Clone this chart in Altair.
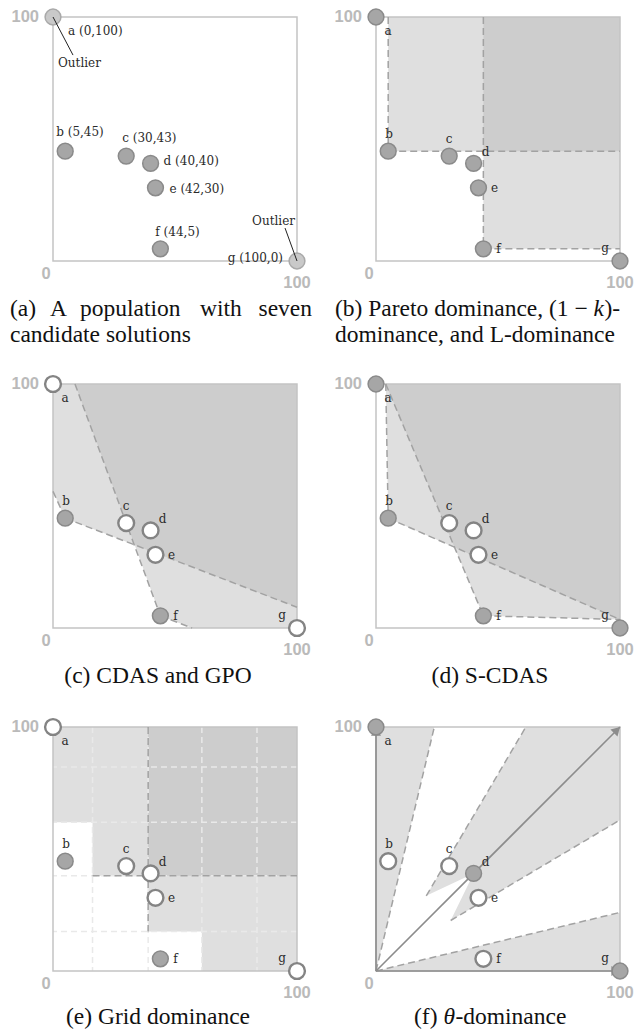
import altair as alt
import pandas as pd

# ---- candidate solutions: objective values f1, f2 ----
names = ["a", "b", "c", "d", "e", "f", "g"]
f1 = [0, 5, 30, 40, 42, 44, 100]
f2 = [100, 45, 43, 40, 30, 5, 0]
coord_labels = ["a (0,100)", "b (5,45)", "c (30,43)", "d (40,40)",
                "e (42,30)", "f (44,5)", "g (100,0)"]

# status of each solution in every panel: o = outlier, g = kept, w = dominated
status_a = ["o", "g", "g", "g", "g", "g", "o"]
status_b = ["g", "g", "g", "g", "g", "g", "g"]
status_c = ["w", "g", "w", "w", "w", "g", "w"]
status_d = ["g", "g", "w", "w", "w", "g", "g"]
status_e = ["w", "g", "w", "w", "w", "g", "w"]
status_f = ["g", "w", "w", "g", "w", "w", "g"]

# outlier call-outs in panel (a): pointer end points
outlier_names = ["a", "g"]
pointer_x2 = [8.2, 95.1]
pointer_y2 = [84.4, 13.5]

# (b) Pareto / (1-k) / L-dominance regions
b_light_x, b_light_x2 = [5, 44], [100, 100]
b_light_y, b_light_y2 = [45, 5], [100, 100]
b_dark_x, b_dark_x2, b_dark_y, b_dark_y2 = [44], [100], [45], [100]
b_edge_x, b_edge_y = [5, 5, 44, 44], [100, 45, 100, 5]
b_edge_x2, b_edge_y2 = [5, 100, 44, 100], [45, 45, 5, 5]

# (c) CDAS and GPO cones
c_light_x = [0, 100, 100, 57, 44, 33.5, 5, 0]
c_light_y = [100, 100, 0, 0, 5, 34, 45, 56]
c_dark_x = [9, 100, 100, 33.5]
c_dark_y = [100, 100, 8.5, 34]
c_edge_x, c_edge_y = [0, 5, 9, 44], [56, 45, 100, 5]
c_edge_x2, c_edge_y2 = [5, 100, 44, 57], [45, 8.5, 5, 0]

# (d) S-CDAS
d_light_x = [4, 100, 100, 44, 32.2, 5]
d_light_y = [100, 100, 3.5, 5, 33, 45]
d_dark_x = [4, 100, 100, 32.2]
d_dark_y = [100, 100, 3.5, 33]
d_edge_x, d_edge_y = [4, 4, 5, 44], [100, 100, 45, 5]
d_edge_x2, d_edge_y2 = [5, 44, 100, 100], [45, 5, 3.5, 3.5]

# (e) grid dominance
e_grid = [16.2, 39, 61, 83.6]
e_light_x, e_light_x2 = [0, 16.2, 39, 61], [100, 100, 100, 100]
e_light_y, e_light_y2 = [61, 39, 16.2, 0], [100, 100, 100, 100]
e_dark_x, e_dark_x2, e_dark_y, e_dark_y2 = [39], [100], [39], [100]
e_edge_x, e_edge_y = [39, 16.2], [100, 39]
e_edge_x2, e_edge_y2 = [39, 100], [16.2, 39]

# (f) theta-dominance wedges
f_left_x, f_left_y = [0, 0, 23.9], [0, 100, 100]
f_bottom_x, f_bottom_y = [0, 100, 100], [0, 0, 24]
f_mid_x = [20.6, 61.4, 100, 100, 30.6, 40]
f_mid_y = [30.8, 100, 100, 61.9, 20.7, 40]
f_edge_x, f_edge_y = [0, 0, 20.6, 30.6], [0, 0, 30.8, 20.7]
f_edge_x2, f_edge_y2 = [23.9, 100, 61.4, 100], [100, 24, 100, 61.9]
f_axis_x, f_axis_y = [0, 0, 0], [0, 0, 0]
f_axis_x2, f_axis_y2 = [0, 100, 100], [100, 0, 100]

# sub-figure captions: (text, x offset, line, align, italic)
captions = {
    "a": [("(a)", -43, 0, "left", False), ("A", -3, 0, "left", False),
          ("population", 27, 0, "left", False), ("with", 147, 0, "left", False),
          ("seven", 259, 0, "right", False),
          ("candidate solutions", -43, 1, "left", False)],
    "b": [("(b) Pareto dominance, (1 \u2212 ", -41, 0, "left", False),
          ("k", 217.6, 0, "left", True), (")-", 228.5, 0, "left", False),
          ("dominance, and L-dominance", -41, 1, "left", False)],
    "c": [("(c) CDAS and GPO", 105, 0, "center", False)],
    "d": [("(d) S-CDAS", 114, 0, "center", False)],
    "e": [("(e) Grid dominance", 105, 0, "center", False)],
    "f": [("(f) ", 38, 0, "left", False), ("\u03b8", 67.4, 0, "left", True),
          ("-dominance", 79.4, 0, "left", False)],
}

# ---- styling ----
W = H = 244
LIGHT = "#dfdfdf"
DARK = "#cdcdcd"
FRAME = "#c4c4c4"
DASH = "#a2a2a2"
AXIS_GRAY = "#8c8c8c"
NUM = "#bababa"
INK = "#2a2a2a"
LABEL_FONT = "DejaVu Serif"
CAPTION_FONT = "Liberation Serif"
NUM_FONT = "Liberation Sans"
LOOK = {
    "o": ("#c9c9c9", "#a9a9a9", 1.5),
    "g": ("#a6a6a6", "#8a8a8a", 1.5),
    "w": ("#ffffff", "#848484", 2.4),
}
# label offsets (dx, dy, align) in pixels
COORD_OFF = [(15, 14, "left"), (-9, -19, "left"), (-4, -18, "left"), (13, -2, "left"),
             (14, 1, "left"), (-5, -17, "left"), (-14, -3, "right")]
LETTER_OFF = [(12, 14), (1, -17), (0, -17), (12, -11), (16, 0), (15, 0), (-15, -13)]

SCALE = alt.Scale(domain=[0, 100], nice=False, zero=False)
ONE = pd.DataFrame({"k": [0]})


def xq(field="x"):
    return alt.X(f"{field}:Q", scale=SCALE, axis=None)


def yq(field="y"):
    return alt.Y(f"{field}:Q", scale=SCALE, axis=None)


def polygons(polys, color):
    rows = []
    for k, (xs, ys) in enumerate(polys):
        for i, (x, y) in enumerate(zip(xs, ys)):
            rows.append({"poly": k, "i": i, "x": x, "y": y})
    return alt.Chart(pd.DataFrame(rows)).mark_line(
        fill=color, strokeWidth=0, interpolate="linear"
    ).encode(x=xq(), y=yq(), order="i:Q", detail="poly:N")


def rects(x, x2, y, y2, color):
    df = pd.DataFrame({"x": x, "x2": x2, "y": y, "y2": y2})
    return alt.Chart(df).mark_rect(color=color, strokeWidth=0).encode(
        x=xq(), x2="x2:Q", y=yq(), y2="y2:Q")


def segments(x, y, x2, y2, color=DASH, width=1.5, dash=(7, 4)):
    df = pd.DataFrame({"x": x, "y": y, "x2": x2, "y2": y2})
    kw = {"strokeDash": list(dash)} if dash else {}
    return alt.Chart(df).mark_rule(color=color, strokeWidth=width, **kw).encode(
        x=xq(), y=yq(), x2="x2:Q", y2="y2:Q")


def frame():
    df = pd.DataFrame({"x": [0], "x2": [100], "y": [0], "y2": [100]})
    return alt.Chart(df).mark_rect(filled=False, color=FRAME, strokeWidth=1.5).encode(
        x=xq(), x2="x2:Q", y=yq(), y2="y2:Q")


def extent(top, bottom):
    # invisible vertical rule fixing the vertical extent of a panel for layout
    return alt.Chart(ONE).mark_rule(strokeOpacity=0, strokeWidth=0).encode(
        x=alt.value(W / 2), y=alt.value(top), y2=alt.value(bottom))


def points(status):
    df = pd.DataFrame({
        "x": f1, "y": f2,
        "fill": [LOOK[s][0] for s in status],
        "stroke": [LOOK[s][1] for s in status],
        "sw": [LOOK[s][2] for s in status],
    })
    return alt.Chart(df).mark_point(shape="circle", filled=True, size=250, opacity=1).encode(
        x=xq(), y=yq(),
        fill=alt.Fill("fill:N", scale=None),
        stroke=alt.Stroke("stroke:N", scale=None),
        strokeWidth=alt.StrokeWidth("sw:Q", scale=None),
    )


def text_at(x, y, text, dx, dy, align="center", size=12):
    df = pd.DataFrame({"x": [x], "y": [y], "t": [text]})
    return alt.Chart(df).mark_text(
        dx=dx, dy=dy, align=align, baseline="middle",
        font=LABEL_FONT, fontSize=size, color=INK
    ).encode(x=xq(), y=yq(), text="t:N")


def letter_labels():
    return [text_at(x, y, n, dx, dy) for n, x, y, (dx, dy) in zip(names, f1, f2, LETTER_OFF)]


def corner_numbers():
    spots = [("100", -14, 0, "right"), ("0", -7, H + 12.5, "center"),
             ("100", W, H + 21.5, "center")]
    return [
        alt.Chart(ONE).mark_text(
            text=t, align=al, baseline="middle", font=NUM_FONT,
            fontWeight="bold", fontSize=16.5, color=NUM
        ).encode(x=alt.value(px), y=alt.value(py))
        for t, px, py, al in spots
    ]


def caption(key, gap=55):
    layers = []
    for text, px, line, align, italic in captions[key]:
        kw = {"fontStyle": "italic"} if italic else {}
        layers.append(alt.Chart(ONE).mark_text(
            text=text, align=align, baseline="alphabetic",
            font=CAPTION_FONT, fontSize=23.5, color="#111111", **kw
        ).encode(x=alt.value(px), y=alt.value(H + gap + 26 * line)))
    return layers


def panel(layers):
    return alt.layer(*layers).properties(width=W, height=H)


idx = {n: i for i, n in enumerate(names)}

# (a) population with outliers
pa_layers = [extent(-12, 354), frame(), points(status_a)]
pa_layers.append(segments([f1[idx[n]] for n in outlier_names],
                          [f2[idx[n]] for n in outlier_names],
                          pointer_x2, pointer_y2, color="#222222", width=1, dash=None))
for n, x, y, t, (dx, dy, al) in zip(names, f1, f2, coord_labels, COORD_OFF):
    pa_layers.append(text_at(x, y, t, dx, dy, al))
pa_layers.append(text_at(f1[idx["a"]], f2[idx["a"]], "Outlier", 5, 46, "left"))
pa_layers.append(text_at(f1[idx["g"]], f2[idx["g"]], "Outlier", -2, -40, "right"))
pa_layers += corner_numbers() + caption("a")
pa = panel(pa_layers)

# (b)
pb = panel([
    extent(-12, 354),
    rects(b_light_x, b_light_x2, b_light_y, b_light_y2, LIGHT),
    rects(b_dark_x, b_dark_x2, b_dark_y, b_dark_y2, DARK),
    frame(),
    segments(b_edge_x, b_edge_y, b_edge_x2, b_edge_y2),
    points(status_b),
] + letter_labels() + corner_numbers() + caption("b"))

# (c)
pc = panel([
    extent(-12, 330),
    polygons([(c_light_x, c_light_y)], LIGHT),
    polygons([(c_dark_x, c_dark_y)], DARK),
    frame(),
    segments(c_edge_x, c_edge_y, c_edge_x2, c_edge_y2),
    points(status_c),
] + letter_labels() + corner_numbers() + caption("c"))

# (d)
pd_ = panel([
    extent(-12, 330),
    polygons([(d_light_x, d_light_y)], LIGHT),
    polygons([(d_dark_x, d_dark_y)], DARK),
    frame(),
    segments(d_edge_x, d_edge_y, d_edge_x2, d_edge_y2),
    points(status_d),
] + letter_labels() + corner_numbers() + caption("d"))

# (e)
grid_v = alt.Chart(pd.DataFrame({"x": e_grid})).mark_rule(
    color="#e9e9e9", strokeWidth=1.5, strokeDash=[6, 4]).encode(x=xq())
grid_h = alt.Chart(pd.DataFrame({"y": e_grid})).mark_rule(
    color="#e9e9e9", strokeWidth=1.5, strokeDash=[6, 4]).encode(y=yq())
pe = panel([
    extent(-12, 290),
    rects(e_light_x, e_light_x2, e_light_y, e_light_y2, LIGHT),
    rects(e_dark_x, e_dark_x2, e_dark_y, e_dark_y2, DARK),
    grid_v, grid_h,
    frame(),
    segments(e_edge_x, e_edge_y, e_edge_x2, e_edge_y2),
    points(status_e),
] + letter_labels() + corner_numbers() + caption("e", gap=53))


# (f)
def arrow_head(x, y, angle, xo, yo):
    df = pd.DataFrame({"x": [x], "y": [y]})
    return alt.Chart(df).mark_point(
        shape="triangle-up", filled=True, size=100, opacity=1, color=AXIS_GRAY,
        angle=angle, xOffset=xo, yOffset=yo
    ).encode(x=xq(), y=yq())


pf = panel([
    extent(-12, 290),
    polygons([(f_left_x, f_left_y), (f_bottom_x, f_bottom_y), (f_mid_x, f_mid_y)], LIGHT),
    frame(),
    segments(f_edge_x, f_edge_y, f_edge_x2, f_edge_y2),
    segments(f_axis_x, f_axis_y, f_axis_x2, f_axis_y2, color=AXIS_GRAY, width=1.6, dash=None),
    arrow_head(f_axis_x2[0], f_axis_y2[0], 0, 0, 4.3),
    arrow_head(f_axis_x2[1], f_axis_y2[1], 90, -4.3, 0),
    arrow_head(f_axis_x2[2], f_axis_y2[2], 45, -3.0, 3.0),
    points(status_f),
] + letter_labels() + corner_numbers() + caption("f", gap=53))

row1 = alt.hconcat(pa, pb, spacing=79, bounds="flush")
row2 = alt.hconcat(pc, pd_, spacing=79, bounds="flush")
row3 = alt.hconcat(pe, pf, spacing=79, bounds="flush")
lower = alt.vconcat(row2, row3, spacing=0)

chart = alt.vconcat(row1, lower, spacing=0).properties(
    padding={"left": 10, "top": 5, "right": 0, "bottom": 0},
    background="white",
).configure_view(strokeWidth=0)

chart.save("out.html", embed_options={"renderer": "svg", "actions": False})
